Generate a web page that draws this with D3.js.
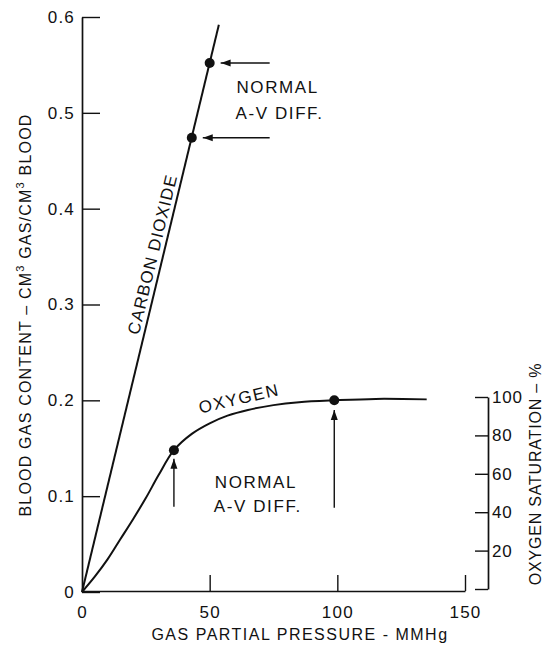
<!DOCTYPE html>
<html>
<head>
<meta charset="utf-8">
<script src="https://cdn.jsdelivr.net/npm/d3@7"></script>
<style>
  body { margin: 0; background: #fff; }
  svg text { font-family: "Liberation Sans", Arial, sans-serif; fill: #111; }
</style>
</head>
<body>
<div id="chart"></div>
<script>
// values
const xTicks = [0, 50, 100, 150];
const yTicks = [0, 0.1, 0.2, 0.3, 0.4, 0.5, 0.6];
const satTicks = [0, 20, 40, 60, 80, 100];

const co2Pressure = [0, 53.6];
const co2Content = [0, 0.592];
const co2DotPressure = [43, 50];
const co2DotContent = [0.474, 0.552];

const o2Pressure = [0, 5, 10, 15, 20, 25, 30, 36, 43, 50, 57, 65, 75, 85, 99, 115, 135];
const o2Content = [0, 0.016, 0.034, 0.055, 0.076, 0.098, 0.122, 0.148, 0.165, 0.176, 0.184, 0.19, 0.195, 0.198, 0.2, 0.2015, 0.201];
const o2DotPressure = [36, 98.8];
const o2DotContent = [0.148, 0.2];

const width = 548;
const height = 646;

const x = d3.scaleLinear().domain([0, 150]).range([82, 465]);
const y = d3.scaleLinear().domain([0, 0.6]).range([592, 17]);
const ySat = d3.scaleLinear().domain([0, 100]).range([589, 397]);
const xRight = 488;

const svg = d3.select("#chart").append("svg")
    .attr("width", width)
    .attr("height", height)
    .attr("viewBox", [0, 0, width, height]);

svg.append("rect").attr("width", width).attr("height", height).attr("fill", "#fff");

// left axis, ticks pointing inward
svg.append("g")
    .attr("transform", `translate(${x(0)},0)`)
    .call(d3.axisLeft(y).tickValues(yTicks).tickSizeInner(-18).tickSizeOuter(0).tickPadding(8)
      .tickFormat(d => d === 0 ? "0" : d3.format(".1f")(d)))
    .call(g => g.selectAll(".domain").attr("stroke", "#111").attr("stroke-width", 1.7))
    .call(g => g.selectAll(".tick line").attr("stroke", "#111").attr("stroke-width", 1.4))
    .call(g => g.selectAll("text").attr("font-size", 17).attr("letter-spacing", 1.2)
      .attr("fill", "#111").attr("x", -7));

// bottom axis, ticks pointing up
svg.append("g")
    .attr("transform", `translate(0,${y(0) - 1})`)
    .call(d3.axisBottom(x).tickValues(xTicks).tickSizeInner(-16).tickSizeOuter(0).tickPadding(15))
    .call(g => g.selectAll(".domain").attr("stroke", "#111").attr("stroke-width", 1.7))
    .call(g => g.selectAll(".tick line").attr("stroke", "#111").attr("stroke-width", 1.4)
      .attr("opacity", d => d === 0 ? 0 : 1))
    .call(g => g.selectAll("text").attr("font-size", 17).attr("letter-spacing", 1.2).attr("fill", "#111"));

// right axis: oxygen saturation
svg.append("g")
    .attr("transform", `translate(${xRight},0)`)
    .call(d3.axisRight(ySat).tickValues(satTicks).tickSizeInner(-13).tickSizeOuter(0).tickPadding(4)
      .tickFormat(d => d === 0 ? "" : d))
    .call(g => g.selectAll(".domain").attr("stroke", "#111").attr("stroke-width", 1.7))
    .call(g => g.selectAll(".tick line").attr("stroke", "#111").attr("stroke-width", 1.4))
    .call(g => g.selectAll("text").attr("font-size", 17).attr("letter-spacing", 0.8).attr("fill", "#111"));

// curves
const co2 = co2Pressure.map((p, i) => [p, co2Content[i]]);
const o2 = o2Pressure.map((p, i) => [p, o2Content[i]]);

const line = d3.line().x(d => x(d[0])).y(d => y(d[1]));
const curve = d3.line().x(d => x(d[0])).y(d => y(d[1])).curve(d3.curveCatmullRom.alpha(0.5));

svg.append("path").datum(co2).attr("d", line)
    .attr("fill", "none").attr("stroke", "#111").attr("stroke-width", 2);
svg.append("path").datum(o2).attr("d", curve)
    .attr("fill", "none").attr("stroke", "#111").attr("stroke-width", 2);

const dots = co2DotPressure.map((p, i) => [p, co2DotContent[i]])
    .concat(o2DotPressure.map((p, i) => [p, o2DotContent[i]]));
svg.append("g").selectAll("circle").data(dots).join("circle")
    .attr("cx", d => x(d[0])).attr("cy", d => y(d[1])).attr("r", 5).attr("fill", "#111");

// arrows
const defs = svg.append("defs");
defs.append("marker").attr("id", "head")
    .attr("viewBox", "0 0 10 10").attr("refX", 10).attr("refY", 5)
    .attr("markerWidth", 10).attr("markerHeight", 10).attr("markerUnits", "userSpaceOnUse")
    .attr("orient", "auto")
  .append("path").attr("d", "M0,1.5 L10,5 L0,8.5 Z").attr("fill", "#111");

const arrows = [
  // horizontal arrows to the CO2 dots
  [[73.5, co2DotContent[1]], [co2DotPressure[1] + 4.3, co2DotContent[1]]],
  [[73.5, co2DotContent[0]], [co2DotPressure[0] + 4.3, co2DotContent[0]]],
  // vertical arrows to the O2 dots
  [[o2DotPressure[0], 0.089], [o2DotPressure[0], 0.139]],
  [[o2DotPressure[1], 0.088], [o2DotPressure[1], 0.19]]
];
svg.append("g").selectAll("line").data(arrows).join("line")
    .attr("x1", d => x(d[0][0])).attr("y1", d => y(d[0][1]))
    .attr("x2", d => x(d[1][0])).attr("y2", d => y(d[1][1]))
    .attr("stroke", "#111").attr("stroke-width", 1.4)
    .attr("marker-end", "url(#head)");

// annotations
function note(px, py, gap) {
  const t = svg.append("text").attr("font-size", 17).attr("letter-spacing", 1.6);
  t.append("tspan").attr("x", px).attr("y", py).text("NORMAL");
  t.append("tspan").attr("x", px - 1).attr("y", py + gap).text("A-V DIFF.");
}
note(x(60.5), y(0.521), 26.5);
note(x(52), y(0.109), 24);

svg.append("text")
    .attr("transform", `translate(${x(29.8)},${y(0.351)}) rotate(-76.4)`)
    .attr("text-anchor", "middle").attr("font-size", 17).attr("letter-spacing", 1.2)
    .text("CARBON DIOXIDE");

svg.append("text")
    .attr("transform", `translate(${x(62)},${y(0.196)}) rotate(-13)`)
    .attr("text-anchor", "middle").attr("font-size", 17).attr("letter-spacing", 1.6)
    .text("OXYGEN");

// axis titles
svg.append("text")
    .attr("x", 300).attr("y", 640)
    .attr("text-anchor", "middle").attr("font-size", 16).attr("letter-spacing", 1.5)
    .text("GAS PARTIAL PRESSURE - MMHg");

const yTitle = svg.append("text")
    .attr("transform", `translate(31,315) rotate(-90)`)
    .attr("text-anchor", "middle").attr("font-size", 16).attr("letter-spacing", 1.2);
yTitle.append("tspan").text("BLOOD GAS CONTENT \u2013 CM");
yTitle.append("tspan").attr("font-size", 11).attr("dy", -7).text("3");
yTitle.append("tspan").attr("dy", 7).text(" GAS/CM");
yTitle.append("tspan").attr("font-size", 11).attr("dy", -7).text("3");
yTitle.append("tspan").attr("dy", 7).text(" BLOOD");

svg.append("text")
    .attr("transform", `translate(541,474) rotate(-90)`)
    .attr("text-anchor", "middle").attr("font-size", 16).attr("letter-spacing", 0.8)
    .text("OXYGEN SATURATION \u2013 %");
</script>
</body>
</html>
